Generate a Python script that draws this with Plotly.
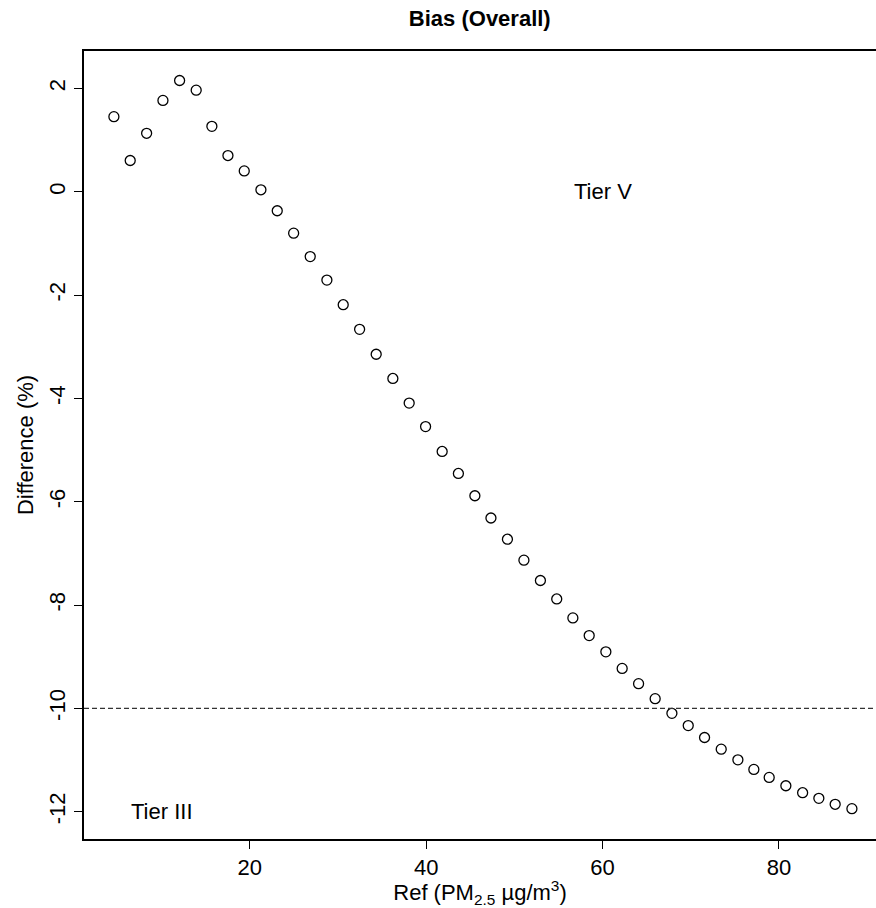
import plotly.graph_objects as go

ref_x = [4.59, 6.44, 8.30, 10.15, 12.04, 13.92, 15.70, 17.52, 19.37, 21.26,
         23.11, 24.97, 26.85, 28.74, 30.59, 32.45, 34.33, 36.22, 38.07, 39.93,
         41.81, 43.65, 45.52, 47.34, 49.21, 51.08, 52.95, 54.80, 56.63, 58.48,
         60.37, 62.22, 64.08, 65.96, 67.86, 69.71, 71.56, 73.45, 75.34, 77.15,
         78.89, 80.78, 82.68, 84.52, 86.37, 88.27]
diff_y = [1.455, 0.606, 1.133, 1.769, 2.155, 1.968, 1.268, 0.702, 0.405, 0.039,
          -0.367, -0.801, -1.254, -1.709, -2.186, -2.663, -3.145, -3.614, -4.090, -4.546,
          -5.027, -5.453, -5.885, -6.315, -6.726, -7.131, -7.525, -7.883, -8.250, -8.592,
          -8.906, -9.228, -9.523, -9.813, -10.097, -10.334, -10.565, -10.791, -10.997, -11.183,
          -11.337, -11.499, -11.634, -11.742, -11.858, -11.943]

x_ticks = [20, 40, 60, 80]
x_tick_text = ["20", "40", "60", "80"]
y_ticks = [-12, -10, -8, -6, -4, -2, 0, 2]
y_tick_text = ["-12", "-10", "-8", "-6", "-4", "-2", "0", "2"]
threshold = -10
labels = [("Tier V", 60, 0), ("Tier III", 10, -12)]

FONT = "Liberation Sans, Arial, sans-serif"
FS = 22

fig = go.Figure()
fig.add_trace(go.Scatter(
    x=ref_x, y=diff_y, mode="markers",
    marker=dict(symbol="circle-open", size=10, color="black", line=dict(width=1.3, color="black")),
    showlegend=False, hoverinfo="skip"))

fig.add_hline(y=threshold, line=dict(color="#333333", width=1.2, dash="5px,3px"))

for txt, xv, yv in labels:
    fig.add_annotation(x=xv, y=yv, text=txt, showarrow=False,
                       font=dict(family=FONT, size=FS, color="black"),
                       xanchor="center", yanchor="middle")

fig.update_layout(
    width=876, height=908,
    margin=dict(l=84, r=0, t=51, b=69),
    plot_bgcolor="white", paper_bgcolor="white",
    font=dict(family=FONT, size=FS, color="black"),
    title=dict(text="<b>Bias (Overall)</b>", x=0.5477, xanchor="center",
               y=1 - 18 / 908, yanchor="middle", yref="container",
               font=dict(family=FONT, size=FS, color="black")),
    xaxis=dict(range=[1.2, 91.0], tickvals=x_ticks, ticktext=x_tick_text,
               ticks="outside", ticklen=8,
               tickwidth=1.2, tickcolor="black", showline=True, linecolor="black",
               linewidth=1.5, mirror=True, showgrid=False, zeroline=False,
               tickfont=dict(family=FONT, size=FS),
               title=dict(text="Ref (PM<sub>2.5</sub> µg/m<sup>3</sup>)", standoff=2,
                          font=dict(family=FONT, size=FS))),
    yaxis=dict(range=[-12.53, 2.726], tickvals=y_ticks, ticktext=y_tick_text,
               ticks="outside", ticklen=8,
               tickwidth=1.2, tickcolor="black", showline=True, linecolor="black",
               linewidth=1.5, mirror=False, showgrid=False, zeroline=False,
               tickangle=-90, tickfont=dict(family=FONT, size=FS),
               title=dict(text="Difference (%)", standoff=6,
                          font=dict(family=FONT, size=FS))),
)

fig.write_html("out.html")
